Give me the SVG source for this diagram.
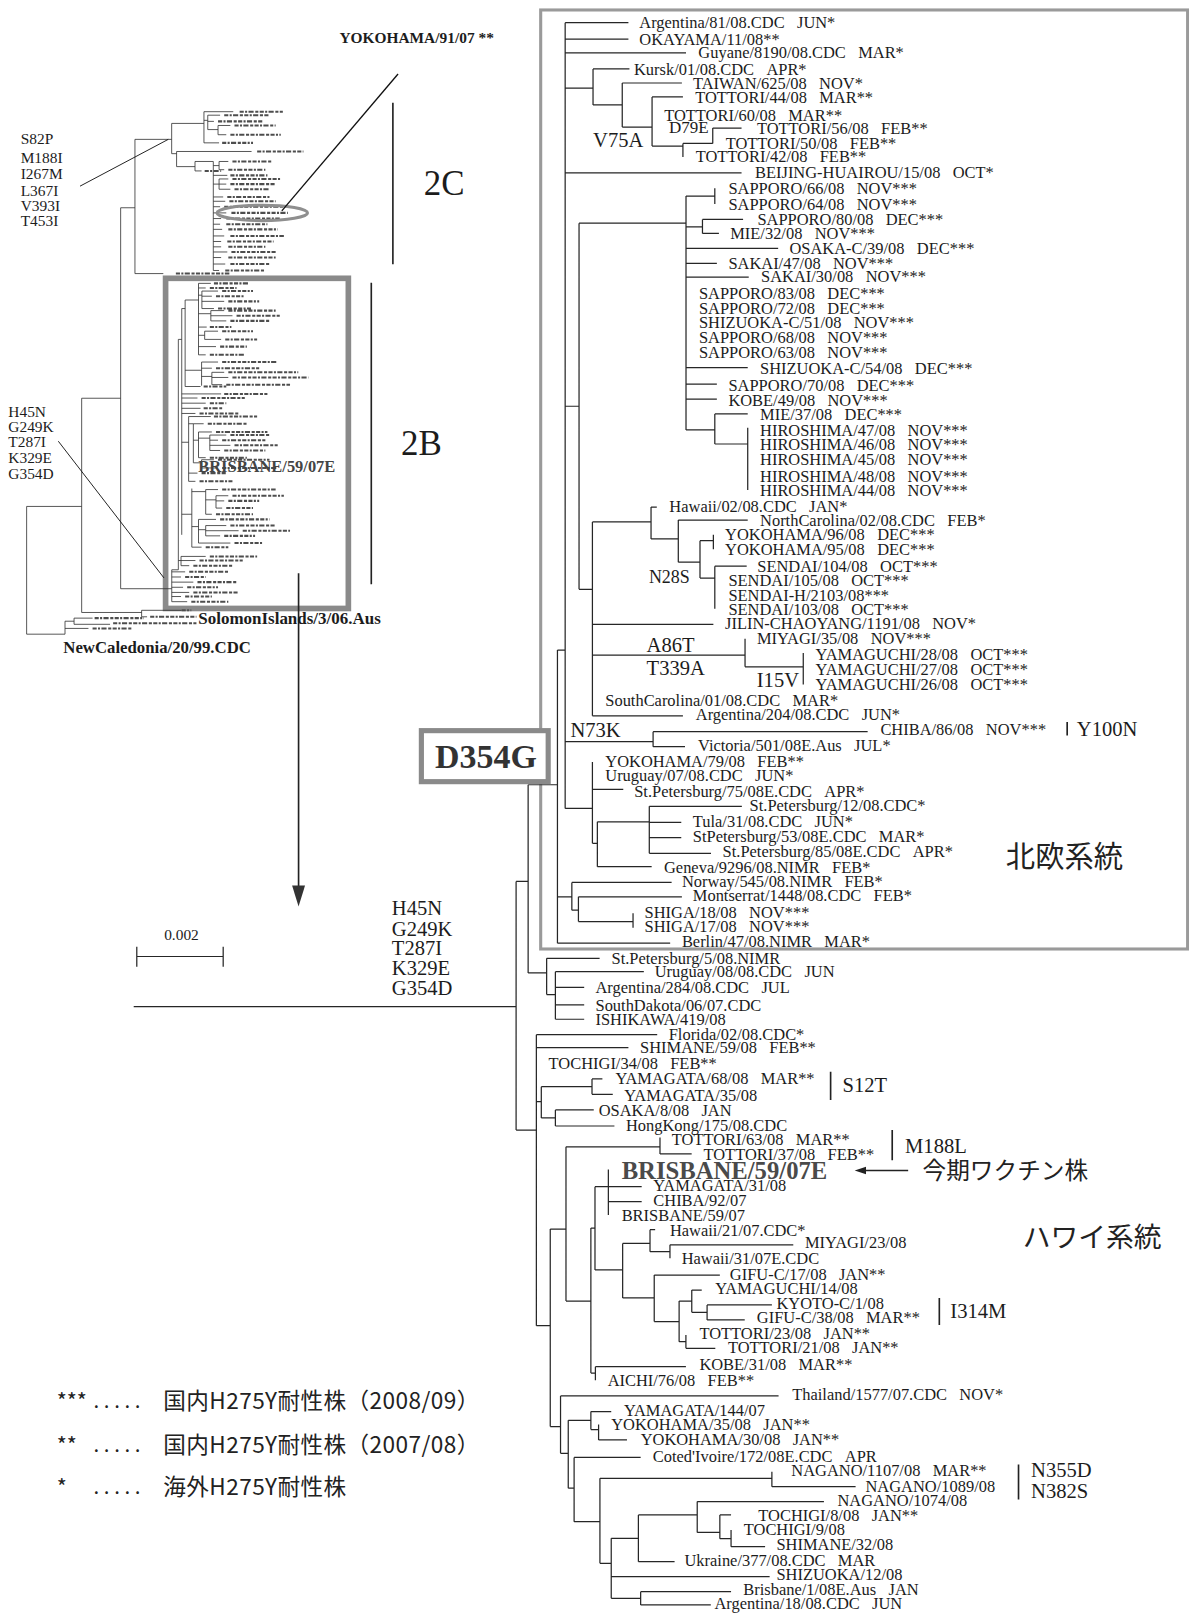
<svg xmlns="http://www.w3.org/2000/svg" width="1189" height="1613" viewBox="0 0 1189 1613">
<style>
.t{font-family:"Liberation Serif","Times New Roman",serif;font-size:16px;fill:#1c1c1c}
.mu{font-size:20px}
.sm{font-size:15px}
.bd{font-weight:bold}
.br{stroke:#262626;stroke-width:1.2;fill:none}
.ml{stroke:#333;stroke-width:0.8;fill:none}
.md{stroke:#4d4d4d;stroke-width:2;fill:none;stroke-dasharray:4 1.3 2 1.3 5 1.6 3 1.3}
.bar{stroke:#222;stroke-width:1.6;fill:none}
.jp{font-family:"Noto Sans CJK JP","Noto Sans",sans-serif;fill:#222}
</style>
<rect width="1189" height="1613" fill="#fff"/>
<g transform="scale(1.0285)">

<!-- boxes -->
<rect id="box-nordic" x="525.7" y="9.7" width="629" height="913" fill="none" stroke="#9a9a9a" stroke-width="3"/>
<rect id="box-2b" x="161" y="270.6" width="177.7" height="321" fill="none" stroke="#8a8a8a" stroke-width="5.5"/>

<!-- mini overview tree -->
<g id="mini-tree">
<path class="ml" d="M25.9 492.4V616.6M25.9 492.4H79.4M25.9 616.6H63.2M63.2 604V616.6M63.2 604H72M72 601V607M72 601H90M72 607H107M63.2 611H86M79.4 387.2V595.5M79.4 595.5H137.7M137.7 593.4V599.7M137.7 593.4H176.6M137.7 599.7H143M79.4 387.2H117.3M117.3 202V572.4M117.3 572.4H167M117.3 202H131.2M131.2 135.5V266M131.2 266H158.8M131.2 135.5H166.9M166.9 120V149.4M166.9 120H198.3M198.3 108.6V138.9M198.3 108.6H226.8M198.3 117H202M202 112V126M202 112H214M202 118H208M202 126H212M212 122V131M212 122H224M212 131H220M198.3 138.9H213M166.9 149.4H171.7M171.7 147.3V162M171.7 147.3H244.6M171.7 162H189.6M189.6 157V166.2M189.6 157H207.4M189.6 166.2H196M207.4 157V263M207.4 161H213M213 157V165M213 157H222M213 165H218M207.4 170.5H221M207.4 179H213M213 174V184M213 174H222M213 179H220M213 184H224M207.4 191.5H217M207.4 195.7H219M207.4 201H214M207.4 207H220M207.4 212.5H215M207.4 218H214M207.4 223H216M207.4 229.4H218M207.4 234.8H215M207.4 240H215M207.4 245H221M207.4 250.4H215M207.4 256.7H219M207.4 263H213"/>
<path class="md" d="M92 601H140M110 606H191M90 611H128M146 599.7H191M176.6 593.4H186M171 266H223M233 108.6H275M218 112H262M212 118H256M228 122H268M224 131H273M216 138.9H246M250 147.3H295M199 166.2H215M226 157H265M222 165H258M224 170.5H260M226 174H273M224 179H268M228 184H262M221 191.5H262M223 195.7H268M218 201H276M225 207H280M220 212.5H272M220 218H260M222 223H270M224 229.4H276M221 234.8H266M222 240H258M225 245H268M222 250.4H268M224 256.7H262M219 263H258"/>
<path class="ml" d="M167 554V585M167 556H180M167 561H176M167 566H188M167 571H178M167 576H184M167 580H176M167 585H182M167 554H173.4M173.4 330V554M173.4 545H176M176 541V550M176 541H200M176 545H190M176 550H184M176.7 300V520M173.4 330H176.7M176.7 300H180M180 291.7V375.8M180 291.7H193M193 275.5V345M193 275.5H205M193 280H200M193 287H196.3M196.3 283V300M196.3 283H212M196.3 288H206M196.3 293H218M196.3 300H208M193 305H205M205 302V312M205 302H218M205 307H226M205 312H220M193 318H201M193 326H199M199 322V330M199 322H212M199 330H215M193 337H210M193 345H200M180 360H196M196 352V375M196 352H212M196 358H206M196 366H206M206 362V374M206 362H218M206 367H222M206 374H216M180 375.8H195M176.7 383H215M176.7 387H192M176.7 392H200M176.7 397H195M176.7 402H190M176.7 430H183.4M183.4 405V468M183.4 405H205M183.4 412H188M188 412V450M188 412H198M188 428H193M193 420V445M193 420H206M193 426H204M204 423V438M204 423H220M204 428H212M204 433H224M204 438H214M193 445H200M188 450H196M196 447V455M196 447H208M196 455H212M183.4 460H192M183.4 468H190M176.7 500H186.5M186.5 475V532M186.5 478H200M200 476V500M200 476H212M200 486H210M210 482V494M210 482H222M210 487H218M210 494H216M200 500H206M186.5 512H193M193 505V528M193 505H210M193 515H200M200 511V521M200 511H220M200 516H232M200 521H214M193 528H224M186.5 532H196"/>
<path class="md" d="M184 556H222M180 561H200M192 566H230M182 571H212M188 576H232M180 580H206M186 585H222M204 541H250M194 545H236M188 550H226M208 275.5H242M204 280H230M216 283H246M210 288H238M222 293H252M212 300H244M222 302H268M230 307H272M224 312H262M204 318H225M216 322H246M219 330H250M214 337H240M204 345H238M216 352H270M210 358H252M222 362H290M226 367H300M220 374H282M198 375.8H220M218 383H260M196 387H238M204 392H220M198 397H216M194 402H232M208 405H250M202 412H240M210 420H260M224 423H262M216 428H258M228 433H270M218 438H258M204 445H240M212 447H262M216 455H270M196 460H220M194 468H226M216 476H268M226 482H276M222 487H252M220 494H246M210 500H246M214 505H262M224 511H268M236 516H282M218 521H248M228 528H256M200 532H222"/>
<ellipse cx="255" cy="207" rx="44" ry="7.5" fill="none" stroke="#8f8f8f" stroke-width="3"/>
<line x1="387" y1="72" x2="274" y2="205" stroke="#111" stroke-width="1.3"/>
<line x1="77.8" y1="181" x2="163.6" y2="135.5" stroke="#111" stroke-width="0.9"/>
<line x1="56.7" y1="429" x2="159.4" y2="561.9" stroke="#111" stroke-width="0.9"/>
<line x1="382" y1="100" x2="382" y2="257" stroke="#222" stroke-width="1.6"/>
<line x1="361" y1="275" x2="361" y2="568" stroke="#222" stroke-width="1.6"/>
<line x1="290.3" y1="557.4" x2="290.3" y2="866" stroke="#222" stroke-width="1.6"/>
<polygon points="284,861 296.6,861 290.3,881.5" fill="#333"/>
</g>
<g id="mini-labels">
<text class="t bd" x="330" y="42" style="font-size:15px">YOKOHAMA/91/07 **</text>
<text class="t" x="412" y="190" style="font-size:34px">2C</text>
<text class="t" x="390" y="442" style="font-size:34px">2B</text>
<text class="t bd" x="192.8" y="459" style="font-size:16px;fill:#444">BRISBANE/59/07E</text>
<text class="t bd" x="192.8" y="607" style="font-size:16.5px">SolomonIslands/3/06.Aus</text>
<text class="t bd" x="61.6" y="635" style="font-size:16.3px">NewCaledonia/20/99.CDC</text>
<text class="t sm" x="20.1" y="140">S82P</text>
<text class="t sm" x="20.1" y="158">M188I</text>
<text class="t sm" x="20.1" y="174.5">I267M</text>
<text class="t sm" x="20.1" y="190.5">L367I</text>
<text class="t sm" x="20.1" y="205.5">V393I</text>
<text class="t sm" x="20.1" y="220">T453I</text>
<text class="t sm" x="8.1" y="405">H45N</text>
<text class="t sm" x="8.1" y="420">G249K</text>
<text class="t sm" x="8.1" y="435">T287I</text>
<text class="t sm" x="8.1" y="450">K329E</text>
<text class="t sm" x="8.1" y="466">G354D</text>
</g>

<!-- scale bar -->
<g id="scale">
<path class="br" d="M133 930H217M133 920.4V940M217 920.4V940"/>
<text class="t sm" x="159.6" y="914">0.002</text>
</g>

<!-- connectors -->
<g id="connectors">
<path class="br" d="M130 978.8H501.8M501.8 857V1098.7M501.8 857H513.5M513.5 763V946M513.5 763H542M542 632V917M542 632H549.5M549.5 22V786M513.5 946H531.5M501.8 1098.7H521.5M549.5 22H611M549.5 38H611M549.5 51.5H667M549.5 85.6H576.6M576.6 67V102M576.6 67H612M576.6 102H605M605 80.7V123.5M605 80.7H663M605 123.5H634M634 94.3V142M634 94.3H664M634 142H664M664 139.5V152.6M664 139.5H693M693 124.5V139.5M693 124.5H721M549.5 168H721M549.5 395H563M563 217V573M563 217H667M667 190.6V418M667 190.6H695M695 183V198.4M667 220.5H683M683 213.3V227M683 213.3H722.5M683 227H699M667 241.5H756.6M667 256H697M667 269.5H728M667 357.5H727M667 373.5H697M667 388H697M667 418H695M695 402.5V431.7M695 402.5H727M695 431.7H727M727 416V476.5M563 573H576M576 507.5V696M576 507.5H633M633 493V524M633 493H638.6M633 524H659.5M659.5 505.6V546.6M659.5 505.6H727M659.5 546.6H680.6M680.6 525.7V562M680.6 525.7H693.6M693.6 520V534M680.6 562H695M695 550.5V592M695 550.5H726M576 607H693.6M576 637H724.4M724.4 621V648.3M724.4 648.3H781M781 635V665.5M576 696H664M549.5 721H635M635 711.4V726M635 711.4H843.6M635 726H666M549.5 786H576M576 741V820M576 767.5H606M576 820H580.8M580.8 799V842.7M580.8 799H631.3M580.8 842.7H633.6M631.3 784V829.7M631.3 784H721.3M631.3 799.5H662.4M631.3 814.5H662.4M631.3 829.7H691.3M542 872H556M556 858V885M556 858H653M556 885H562.4M562.4 872V896M562.4 872H663M562.4 896H615.5M615.5 888V902M542 917H651.6M531.5 931.8V967M531.5 931.8H583M531.5 967H540M540 944.8V991M540 944.8H626M540 960H568M540 977H568M540 991H568M521.5 1006V1289M521.5 1006H639M521.5 1018.6H611M521.5 1071H526.3M526.3 1056.6V1087M526.3 1056.6H575.6M575.6 1049V1064M575.6 1049H585.7M575.6 1064H595.8M526.3 1087H540M540 1079.2V1094.8M540 1079.2H577.3M540 1094.8H597.4M521.5 1289H535M535 1195V1387M535 1195H550.3M550.3 1115V1265M550.3 1115H641.7M641.7 1106V1122M641.7 1122H672.5M550.3 1265H574.5M574.5 1194V1335M574.5 1194H578.5M578.5 1153.8V1234.8M578.5 1153.8H623.9M591.5 1137V1181.3M591.5 1168.4H623.9M578.5 1234.8H605.4M605.4 1209V1262M605.4 1209H632M632 1195.6V1217M632 1195.6H637M632 1217H651.4M651.4 1210.3V1223.4M651.4 1210.3H771.3M605.4 1262H636.1M636.1 1239.7V1285M636.1 1239.7H699.9M636.1 1285H660.3M660.3 1265V1304.5M660.3 1265H672.6M672.6 1254.3V1276M672.6 1254.3H682.3M672.6 1276H687.5M687.5 1268.8V1283.4M687.5 1268.8H750.5M687.5 1283.4H724.1M660.3 1304.5H666.9M666.9 1298V1311M666.9 1311H695.5M574.5 1335H578.9M578.9 1328.8V1342M578.9 1328.8H666.9M535 1387H545M545 1357.3V1413M545 1357.3H757M545 1413H552.5M552.5 1381V1447M552.5 1381H574.5M574.5 1372.5V1390M574.5 1372.5H594.3M574.5 1390H582M582 1385V1400M582 1400H609.6M552.5 1447H558.2M558.2 1417V1479.5M558.2 1417H622.9M558.2 1479.5H583.3M583.3 1437.3V1520M583.3 1437.3H750.5M750.5 1430.9V1445.5M750.5 1445.5H831.9M583.3 1520H594.3M594.3 1495.7V1554M594.3 1495.7H620.7M620.7 1473V1518.4M620.7 1518.4H655.9M620.7 1473H677.9M677.9 1460V1490M677.9 1460H801.1M677.9 1490H699.9M699.9 1473V1496M699.9 1473H710.8M699.9 1496H710.8M710.8 1487.6V1503.8M710.8 1503.8H743.9M594.3 1533H748.3M594.3 1554H622.9M622.9 1547.6V1560.5M622.9 1547.6H710.8M622.9 1560.5H691.1"/>
<path class="bar" d="M1037.6 702V715M807.6 1042V1069.5M867.5 1098.7V1128M913.3 1262V1288.3M990.3 1424V1458"/>
<path d="M883 1138H840" stroke="#222" stroke-width="1.4"/>
<polygon points="831,1138 842,1134.3 842,1141.7" fill="#222"/>
</g>

<!-- D354G box -->
<g id="d354g">
<rect x="409.7" y="710.4" width="123.3" height="49.6" fill="#fff" stroke="#8a8a8a" stroke-width="5"/>
<text class="t bd" x="423" y="747" style="font-size:33px;fill:#333">D354G</text>
</g>

<!-- mutation labels -->
<g id="mutations">
<text class="t mu" x="576.6" y="142.6">V75A</text>
<text class="t" x="650.5" y="129.6" style="font-size:16.5px">D79E</text>
<text class="t" x="630.9" y="567.2" style="font-size:17.5px">N28S</text>
<text class="t mu" x="628.7" y="633.6">A86T</text>
<text class="t mu" x="628.7" y="656.3">T339A</text>
<text class="t mu" x="735.8" y="667.6">I15V</text>
<text class="t mu" x="554.6" y="716.3">N73K</text>
<text class="t mu" x="1047" y="715.6">Y100N</text>
<text class="t mu" x="381" y="890">H45N</text>
<text class="t mu" x="381" y="910">G249K</text>
<text class="t mu" x="381" y="929">T287I</text>
<text class="t mu" x="381" y="948">K329E</text>
<text class="t mu" x="381" y="967">G354D</text>
<text class="t mu" x="819.2" y="1061.4">S12T</text>
<text class="t mu" x="880" y="1121.4">M188L</text>
<text class="t mu" x="924" y="1281.8">I314M</text>
<text class="t mu" x="1002.5" y="1436.5">N355D</text>
<text class="t mu" x="1002.5" y="1456.5">N382S</text>
<text class="jp" x="978" y="843" style="font-size:28.5px">北欧系統</text>
<text class="jp" x="994.4" y="1212" style="font-size:27px">ハワイ系統</text>
<text class="jp" x="897" y="1146" style="font-size:23px">今期ワクチン株</text>
</g>

<!-- leaves -->
<g id="n1"><text class="t" x="621.6" y="27.5">Argentina/81/08.CDC&#160;&#160;&#160;JUN*</text></g>
<g id="n2"><text class="t" x="621.6" y="43.4">OKAYAMA/11/08**</text></g>
<g id="n3"><text class="t" x="679" y="56.7">Guyane/8190/08.CDC&#160;&#160;&#160;MAR*</text></g>
<g id="n4"><text class="t" x="616.4" y="72.6">Kursk/01/08.CDC&#160;&#160;&#160;APR*</text></g>
<g id="n5"><text class="t" x="673.8" y="86.5">TAIWAN/625/08&#160;&#160;&#160;NOV*</text></g>
<g id="n6"><text class="t" x="675.9" y="100.1">TOTTORI/44/08&#160;&#160;&#160;MAR**</text></g>
<g id="n7"><text class="t" x="645.8" y="117.3">TOTTORI/60/08&#160;&#160;&#160;MAR**</text></g>
<g id="n8"><text class="t" x="736" y="130.3">TOTTORI/56/08&#160;&#160;&#160;FEB**</text></g>
<g id="n9"><text class="t" x="705.6" y="144.9">TOTTORI/50/08&#160;&#160;&#160;FEB**</text></g>
<g id="n10"><text class="t" x="676.4" y="157.8">TOTTORI/42/08&#160;&#160;&#160;FEB**</text></g>
<g id="n11"><text class="t" x="734.1" y="173.4">BEIJING-HUAIROU/15/08&#160;&#160;&#160;OCT*</text></g>
<g id="n12"><text class="t" x="708.2" y="188.6">SAPPORO/66/08&#160;&#160;&#160;NOV***</text></g>
<g id="n13"><text class="t" x="708.2" y="203.9">SAPPORO/64/08&#160;&#160;&#160;NOV***</text></g>
<g id="n14"><text class="t" x="736.4" y="218.8">SAPPORO/80/08&#160;&#160;&#160;DEC***</text></g>
<g id="n15"><text class="t" x="710" y="232.4">MIE/32/08&#160;&#160;&#160;NOV***</text></g>
<g id="n16"><text class="t" x="767.6" y="247">OSAKA-C/39/08&#160;&#160;&#160;DEC***</text></g>
<g id="n17"><text class="t" x="708.2" y="261.5">SAKAI/47/08&#160;&#160;&#160;NOV***</text></g>
<g id="n18"><text class="t" x="740" y="274.5">SAKAI/30/08&#160;&#160;&#160;NOV***</text></g>
<g id="n19"><text class="t" x="679.6" y="290.7">SAPPORO/83/08&#160;&#160;&#160;DEC***</text></g>
<g id="n20"><text class="t" x="679.6" y="305.3">SAPPORO/72/08&#160;&#160;&#160;DEC***</text></g>
<g id="n21"><text class="t" x="679.6" y="319.2">SHIZUOKA-C/51/08&#160;&#160;&#160;NOV***</text></g>
<g id="n22"><text class="t" x="679.6" y="333.8">SAPPORO/68/08&#160;&#160;&#160;NOV***</text></g>
<g id="n23"><text class="t" x="679.6" y="348.1">SAPPORO/63/08&#160;&#160;&#160;NOV***</text></g>
<g id="n24"><text class="t" x="739" y="363.8">SHIZUOKA-C/54/08&#160;&#160;&#160;DEC***</text></g>
<g id="n25"><text class="t" x="708.2" y="379.8">SAPPORO/70/08&#160;&#160;&#160;DEC***</text></g>
<g id="n26"><text class="t" x="708.2" y="394.5">KOBE/49/08&#160;&#160;&#160;NOV***</text></g>
<g id="n27"><text class="t" x="739" y="408.5">MIE/37/08&#160;&#160;&#160;DEC***</text></g>
<g id="n28"><text class="t" x="739" y="423.5">HIROSHIMA/47/08&#160;&#160;&#160;NOV***</text></g>
<g id="n29"><text class="t" x="739" y="437.7">HIROSHIMA/46/08&#160;&#160;&#160;NOV***</text></g>
<g id="n30"><text class="t" x="739" y="451.8">HIROSHIMA/45/08&#160;&#160;&#160;NOV***</text></g>
<g id="n31"><text class="t" x="739" y="468.3">HIROSHIMA/48/08&#160;&#160;&#160;NOV***</text></g>
<g id="n32"><text class="t" x="739" y="481.9">HIROSHIMA/44/08&#160;&#160;&#160;NOV***</text></g>
<g id="n33"><text class="t" x="650.8" y="497.5">Hawaii/02/08.CDC&#160;&#160;&#160;JAN*</text></g>
<g id="n34"><text class="t" x="739" y="511.1">NorthCarolina/02/08.CDC&#160;&#160;&#160;FEB*</text></g>
<g id="n35"><text class="t" x="705" y="525.2">YOKOHAMA/96/08&#160;&#160;&#160;DEC***</text></g>
<g id="n36"><text class="t" x="705" y="539.3">YOKOHAMA/95/08&#160;&#160;&#160;DEC***</text></g>
<g id="n37"><text class="t" x="736.3" y="555.8">SENDAI/104/08&#160;&#160;&#160;OCT***</text></g>
<g id="n38"><text class="t" x="708.2" y="569.5">SENDAI/105/08&#160;&#160;&#160;OCT***</text></g>
<g id="n39"><text class="t" x="708.2" y="584">SENDAI-H/2103/08***</text></g>
<g id="n40"><text class="t" x="708.2" y="597.6">SENDAI/103/08&#160;&#160;&#160;OCT***</text></g>
<g id="n41"><text class="t" x="705" y="611.7">JILIN-CHAOYANG/1191/08&#160;&#160;&#160;NOV*</text></g>
<g id="n42"><text class="t" x="736" y="626.3">MIYAGI/35/08&#160;&#160;&#160;NOV***</text></g>
<g id="n43"><text class="t" x="793" y="641.5">YAMAGUCHI/28/08&#160;&#160;&#160;OCT***</text></g>
<g id="n44"><text class="t" x="793" y="656">YAMAGUCHI/27/08&#160;&#160;&#160;OCT***</text></g>
<g id="n45"><text class="t" x="793" y="670.5">YAMAGUCHI/26/08&#160;&#160;&#160;OCT***</text></g>
<g id="n46"><text class="t" x="588.5" y="686.5">SouthCarolina/01/08.CDC&#160;&#160;&#160;MAR*</text></g>
<g id="n47"><text class="t" x="676.5" y="700.5">Argentina/204/08.CDC&#160;&#160;&#160;JUN*</text></g>
<g id="n48"><text class="t" x="856" y="714.5">CHIBA/86/08&#160;&#160;&#160;NOV***</text></g>
<g id="n49"><text class="t" x="678.7" y="730.5">Victoria/501/08E.Aus&#160;&#160;&#160;JUL*</text></g>
<g id="n50"><text class="t" x="588.5" y="745.5">YOKOHAMA/79/08&#160;&#160;&#160;FEB**</text></g>
<g id="n51"><text class="t" x="588.5" y="759.5">Uruguay/07/08.CDC&#160;&#160;&#160;JUN*</text></g>
<g id="n52"><text class="t" x="616.6" y="774.5">St.Petersburg/75/08E.CDC&#160;&#160;&#160;APR*</text></g>
<g id="n53"><text class="t" x="728.8" y="788.5">St.Petersburg/12/08.CDC*</text></g>
<g id="n54"><text class="t" x="673.6" y="804.5">Tula/31/08.CDC&#160;&#160;&#160;JUN*</text></g>
<g id="n55"><text class="t" x="673.6" y="818.5">StPetersburg/53/08E.CDC&#160;&#160;&#160;MAR*</text></g>
<g id="n56"><text class="t" x="702.6" y="833.5">St.Petersburg/85/08E.CDC&#160;&#160;&#160;APR*</text></g>
<g id="n57"><text class="t" x="645.6" y="848.5">Geneva/9296/08.NIMR&#160;&#160;&#160;FEB*</text></g>
<g id="n58"><text class="t" x="663" y="862.5">Norway/545/08.NIMR&#160;&#160;&#160;FEB*</text></g>
<g id="n59"><text class="t" x="673.6" y="876.5">Montserrat/1448/08.CDC&#160;&#160;&#160;FEB*</text></g>
<g id="n60"><text class="t" x="626.7" y="892.5">SHIGA/18/08&#160;&#160;&#160;NOV***</text></g>
<g id="n61"><text class="t" x="626.7" y="906.5">SHIGA/17/08&#160;&#160;&#160;NOV***</text></g>
<g id="n62"><text class="t" x="663" y="921">Berlin/47/08.NIMR&#160;&#160;&#160;MAR*</text></g>
<g id="n63"><text class="t" x="594.6" y="937.3">St.Petersburg/5/08.NIMR</text></g>
<g id="n64"><text class="t" x="636.5" y="950.3">Uruguay/08/08.CDC&#160;&#160;&#160;JUN</text></g>
<g id="n65"><text class="t" x="579" y="965.5">Argentina/284/08.CDC&#160;&#160;&#160;JUL</text></g>
<g id="n66"><text class="t" x="579" y="982.5">SouthDakota/06/07.CDC</text></g>
<g id="n67"><text class="t" x="579" y="996.5">ISHIKAWA/419/08</text></g>
<g id="n68"><text class="t" x="650.2" y="1010.8">Florida/02/08.CDC*</text></g>
<g id="n69"><text class="t" x="622.3" y="1024.1">SHIMANE/59/08&#160;&#160;&#160;FEB**</text></g>
<g id="n70"><text class="t" x="533.4" y="1039.3">TOCHIGI/34/08&#160;&#160;&#160;FEB**</text></g>
<g id="n71"><text class="t" x="598.4" y="1053.9">YAMAGATA/68/08&#160;&#160;&#160;MAR**</text></g>
<g id="n72"><text class="t" x="607" y="1070.2">YAMAGATA/35/08</text></g>
<g id="n73"><text class="t" x="582.1" y="1084.7">OSAKA/8/08&#160;&#160;&#160;JAN</text></g>
<g id="n74"><text class="t" x="608.6" y="1099.3">HongKong/175/08.CDC</text></g>
<g id="n75"><text class="t" x="653.2" y="1113.2">TOTTORI/63/08&#160;&#160;&#160;MAR**</text></g>
<g id="n76"><text class="t" x="684" y="1127.5">TOTTORI/37/08&#160;&#160;&#160;FEB**</text></g>
<g id="n77"><text class="t bd" x="604.4" y="1146.5" style="font-size:24px;fill:#4a4a4a">BRISBANE/59/07E</text></g>
<g id="n78"><text class="t" x="635.2" y="1157.7">YAMAGATA/31/08</text></g>
<g id="n79"><text class="t" x="635.2" y="1172.9">CHIBA/92/07</text></g>
<g id="n80"><text class="t" x="604.4" y="1186.8">BRISBANE/59/07</text></g>
<g id="n81"><text class="t" x="651.4" y="1201.4">Hawaii/21/07.CDC*</text></g>
<g id="n82"><text class="t" x="782.7" y="1213.7">MIYAGI/23/08</text></g>
<g id="n83"><text class="t" x="662.8" y="1228.9">Hawaii/31/07E.CDC</text></g>
<g id="n84"><text class="t" x="709.6" y="1244.5">GIFU-C/17/08&#160;&#160;&#160;JAN**</text></g>
<g id="n85"><text class="t" x="695.5" y="1258.5">YAMAGUCHI/14/08</text></g>
<g id="n86"><text class="t" x="754.9" y="1272.5">KYOTO-C/1/08</text></g>
<g id="n87"><text class="t" x="735.9" y="1286.5">GIFU-C/38/08&#160;&#160;&#160;MAR**</text></g>
<g id="n88"><text class="t" x="680.1" y="1301.5">TOTTORI/23/08&#160;&#160;&#160;JAN**</text></g>
<g id="n89"><text class="t" x="707.8" y="1315.5">TOTTORI/21/08&#160;&#160;&#160;JAN**</text></g>
<g id="n90"><text class="t" x="680" y="1332.5">KOBE/31/08&#160;&#160;&#160;MAR**</text></g>
<g id="n91"><text class="t" x="590.8" y="1347.5">AICHI/76/08&#160;&#160;&#160;FEB**</text></g>
<g id="n92"><text class="t" x="770.3" y="1361.5">Thailand/1577/07.CDC&#160;&#160;&#160;NOV*</text></g>
<g id="n93"><text class="t" x="606.6" y="1376.5">YAMAGATA/144/07</text></g>
<g id="n94"><text class="t" x="594.3" y="1390.5">YOKOHAMA/35/08&#160;&#160;&#160;JAN**</text></g>
<g id="n95"><text class="t" x="622.9" y="1404.5">YOKOHAMA/30/08&#160;&#160;&#160;JAN**</text></g>
<g id="n96"><text class="t" x="634.7" y="1421.5">Coted'Ivoire/172/08E.CDC&#160;&#160;&#160;APR</text></g>
<g id="n97"><text class="t" x="769.4" y="1435.5">NAGANO/1107/08&#160;&#160;&#160;MAR**</text></g>
<g id="n98"><text class="t" x="841.5" y="1450.5">NAGANO/1089/08</text></g>
<g id="n99"><text class="t" x="814.3" y="1464.5">NAGANO/1074/08</text></g>
<g id="n100"><text class="t" x="737.3" y="1478.5">TOCHIGI/8/08&#160;&#160;&#160;JAN**</text></g>
<g id="n101"><text class="t" x="723.2" y="1492.5">TOCHIGI/9/08</text></g>
<g id="n102"><text class="t" x="754.9" y="1507.5">SHIMANE/32/08</text></g>
<g id="n103"><text class="t" x="665.5" y="1522.5">Ukraine/377/08.CDC&#160;&#160;&#160;MAR</text></g>
<g id="n104"><text class="t" x="754.9" y="1536.5">SHIZUOKA/12/08</text></g>
<g id="n105"><text class="t" x="722.7" y="1550.5">Brisbane/1/08E.Aus&#160;&#160;&#160;JAN</text></g>
<g id="n106"><text class="t" x="694.6" y="1564.5">Argentina/18/08.CDC&#160;&#160;&#160;JUN</text></g>

<!-- legend -->
<g id="legend">
<text class="jp" x="55.1" y="1370" style="font-size:21px">***</text>
<text class="jp" x="91.4" y="1369" style="font-size:14px;font-weight:bold;letter-spacing:5.5px">.....</text>
<text class="jp" x="158.8" y="1369.5" style="font-size:22px;letter-spacing:0.4px">国内H275Y耐性株（2008/09）</text>
<text class="jp" x="55.1" y="1413" style="font-size:21px">**</text>
<text class="jp" x="91.4" y="1412" style="font-size:14px;font-weight:bold;letter-spacing:5.5px">.....</text>
<text class="jp" x="158.8" y="1412.5" style="font-size:22px;letter-spacing:0.4px">国内H275Y耐性株（2007/08）</text>
<text class="jp" x="55.1" y="1454" style="font-size:21px">*</text>
<text class="jp" x="91.4" y="1453" style="font-size:14px;font-weight:bold;letter-spacing:5.5px">.....</text>
<text class="jp" x="158.8" y="1453.5" style="font-size:22px;letter-spacing:0.4px">海外H275Y耐性株</text>
</g>
</g>
</svg>
